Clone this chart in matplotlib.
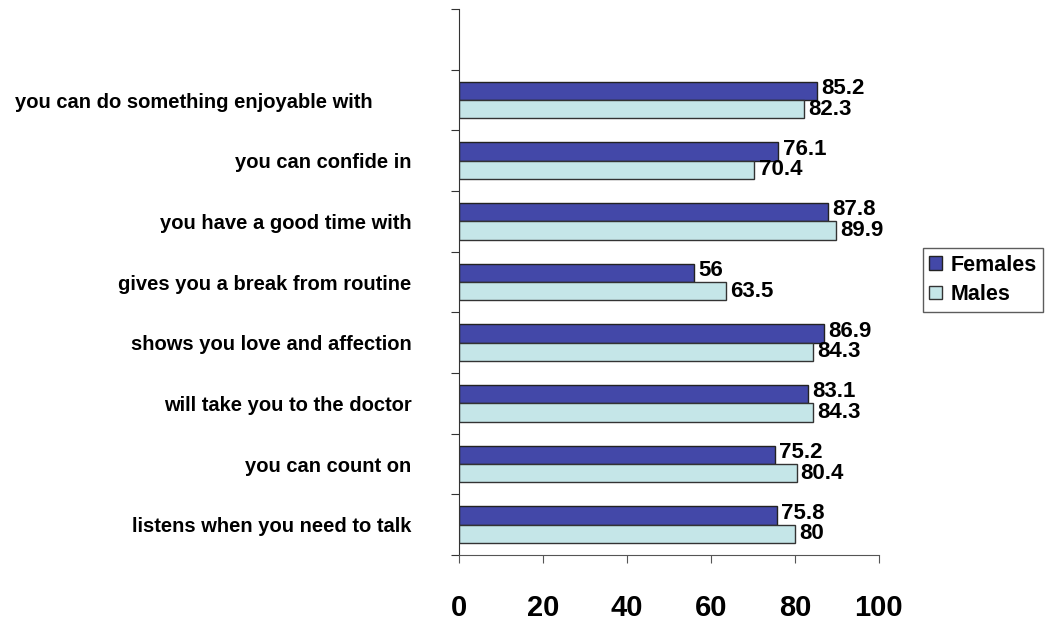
import matplotlib.pyplot as plt
import numpy as np

# data, bottom category first
categories = ["listens when you need to talk", "you can count on",
              "will take you to the doctor", "shows you love and affection",
              "gives you a break from routine", "you have a good time with",
              "you can confide in", "you can do something enjoyable with       "]
females = [75.8, 75.2, 83.1, 86.9, 56, 87.8, 76.1, 85.2]
males = [80, 80.4, 84.3, 84.3, 63.5, 89.9, 70.4, 82.3]
xticks = [0, 20, 40, 60, 80, 100]

plt.rcParams['font.family'] = ['Liberation Sans', 'DejaVu Sans']

fig = plt.figure(figsize=(10.45, 6.22), dpi=100)
ax = fig.add_axes([0.439, 0.1077, 0.402, 0.8778])

y = np.arange(len(categories))
h = 0.3
bf = ax.barh(y + h / 2, females, height=h, color='#4348A8',
             edgecolor='#222222', linewidth=1, label='Females')
bm = ax.barh(y - h / 2, males, height=h, color='#C5E6E8',
             edgecolor='#333333', linewidth=1, label='Males')

for yi, v in zip(y, females):
    ax.text(v + 1.0, yi + h / 2 + 0.04, f"{v:g}", va='center', ha='left',
            fontsize=16, fontweight='bold')
for yi, v in zip(y, males):
    ax.text(v + 1.0, yi - h / 2 + 0.0, f"{v:g}", va='center', ha='left',
            fontsize=16, fontweight='bold')

ax.set_xlim(0, 100)
ax.set_ylim(-0.5, len(categories) + 0.5)
ax.set_xticks(xticks)
ax.set_xticklabels([str(t) for t in xticks], fontsize=21, fontweight='bold')
ax.tick_params(axis='x', length=6, pad=22, color='#555555')

# category boundaries as major ticks, names on minor ticks
ax.set_yticks(np.arange(-0.5, len(categories) + 1, 1))
ax.set_yticklabels([])
ax.set_yticks(y, minor=True)
ax.set_yticklabels(categories, minor=True, fontsize=14.5, fontweight='bold')
ax.tick_params(axis='y', which='major', length=6, color='#333333')
ax.tick_params(axis='y', which='minor', length=0, pad=34)

for s in ['top', 'right']:
    ax.spines[s].set_visible(False)
ax.spines['left'].set_color('#333333')
ax.spines['bottom'].set_color('#555555')

fig.legend(handles=[bf, bm], loc='center left', bbox_to_anchor=(0.883, 0.55),
           prop={'size': 15.5, 'weight': 'bold'}, frameon=True, fancybox=False,
           edgecolor='#333333', handlelength=0.6, handleheight=0.6,
           borderpad=0.3, handletextpad=0.4, labelspacing=0.4,
           borderaxespad=0)

fig.savefig('out.png', dpi=100)
